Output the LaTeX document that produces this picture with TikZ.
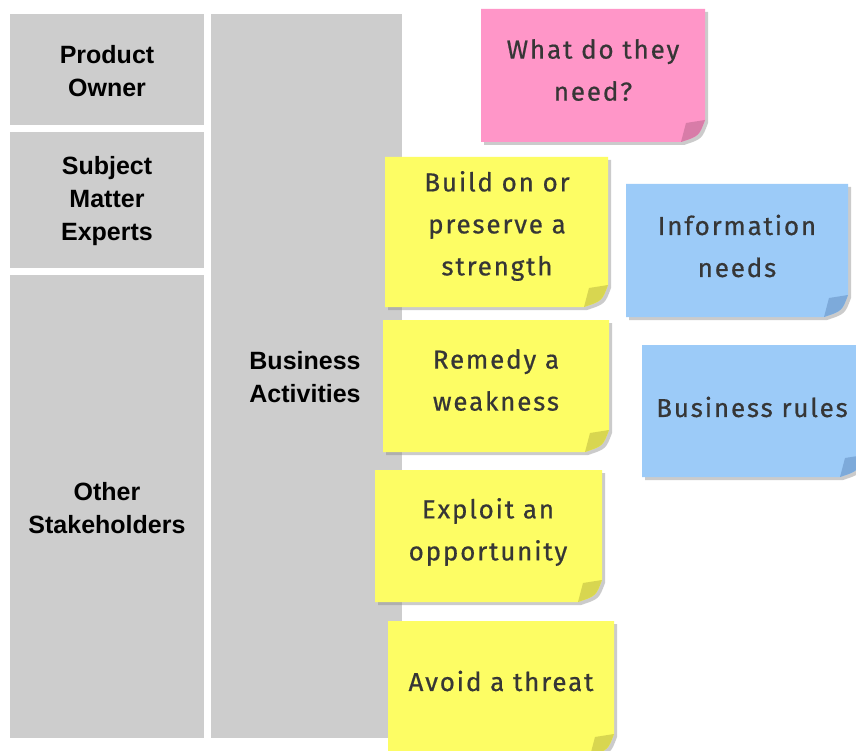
\documentclass[tikz,border=0pt]{standalone}
\usepackage{fontspec}
\setmainfont{Liberation Sans}
\newfontfamily\handfont{Fira Sans}[LetterSpace=7,FakeBold=0.6]
\definecolor{boxgray}{HTML}{CDCDCD}
\definecolor{notepink}{HTML}{FF96C8}
\definecolor{noteyellow}{HTML}{FDFD64}
\definecolor{noteblue}{HTML}{9CCBF8}
\definecolor{foldpink}{HTML}{D87CA8}
\definecolor{foldyellow}{HTML}{D8D650}
\definecolor{foldblue}{HTML}{7DAADA}
\definecolor{handtext}{HTML}{363636}
\newcommand\stickynote[6]{%
  \fill[black!45,opacity=.45] (#3+3,#4+3) -- (#5+3,#4+3) -- (#5+3,#6-22+3) .. controls (#5-6+3,#6-6+3) .. (#5-24+3,#6+3) -- (#3+3,#6+3) -- cycle;
  \fill[#1] (#3,#4) -- (#5,#4) -- (#5,#6-22) .. controls (#5-6,#6-6) .. (#5-24,#6) -- (#3,#6) -- cycle;
  \fill[#2] (#5,#6-22) -- (#5-19,#6-19) -- (#5-24,#6) .. controls (#5-6,#6-6) .. cycle;
}
\tikzset{
  lbl/.style={font=\bfseries\fontsize{25}{33}\selectfont, align=center, text=black, inner sep=0pt},
  hand/.style={font=\handfont\fontsize{26}{42}\selectfont, align=center, text=handtext, inner sep=0pt},
}
\begin{document}
\begin{tikzpicture}[x=1pt,y=-1pt]
\useasboundingbox (0,0) rectangle (856,751);
\clip (0,0) rectangle (856,751);
\fill[white] (0,0) rectangle (856,751);
% gray columns
\fill[boxgray] (10,14) rectangle (204,125);
\fill[boxgray] (10,132) rectangle (204,268);
\fill[boxgray] (10,275) rectangle (204,738);
\fill[boxgray] (211,14) rectangle (402,738);
\node[lbl] (po) at (107,71) {Product\\Owner};
\node[lbl] (sme) at (107,201) {Subject\\Matter\\Experts};
\node[lbl] (os) at (107,508) {Other\\Stakeholders};
\node[lbl] (ba) at (305,377) {Business\\Activities};
% sticky notes
\stickynote{notepink}{foldpink}{481}{9}{705}{142}
\stickynote{noteyellow}{foldyellow}{385}{157}{608}{307}
\stickynote{noteblue}{foldblue}{626}{184}{848}{317}
\stickynote{noteblue}{foldblue}{642}{345}{864}{477}
\stickynote{noteyellow}{foldyellow}{383}{320}{609}{452}
\stickynote{noteyellow}{foldyellow}{375}{470}{602}{602}
\stickynote{noteyellow}{foldyellow}{388}{621}{614}{756}
\node[hand] (need) at (593,70) {What do they\\need?};
\node[hand] (build) at (497,226) {Build on or\\preserve a\\strength};
\node[hand] (info) at (737,246) {Information\\needs};
\node[hand] (rules) at (752,407) {Business rules};
\node[hand] (remedy) at (496,380) {Remedy a\\weakness};
\node[hand] (exploit) at (488,532) {Exploit an\\opportunity};
\node[hand] (avoid) at (501,681) {Avoid a threat};
\end{tikzpicture}
\end{document}
